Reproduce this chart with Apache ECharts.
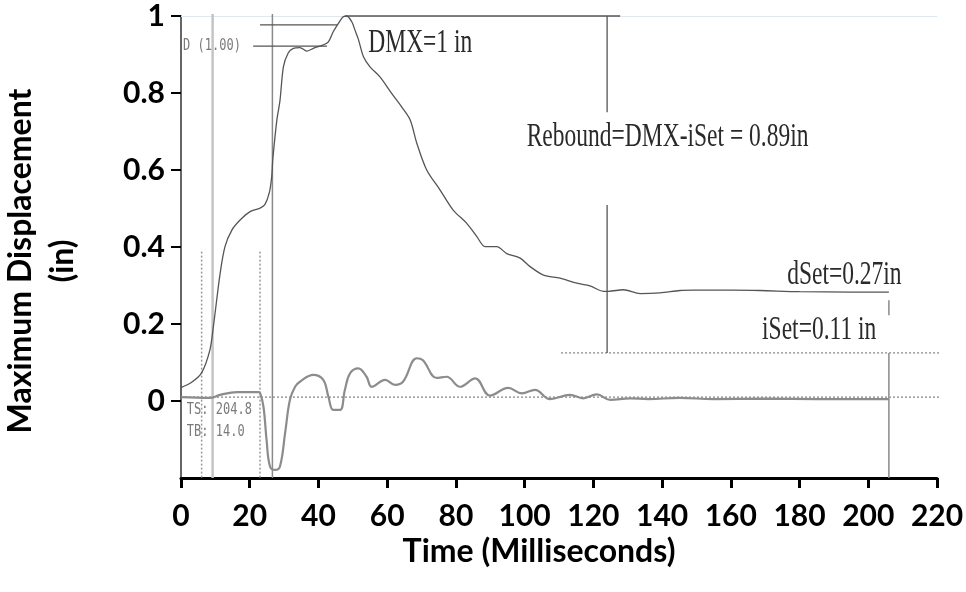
<!DOCTYPE html>
<html>
<head>
<meta charset="utf-8">
<script src="https://cdn.jsdelivr.net/npm/echarts@6/dist/echarts.min.js"></script>
<style>html,body{margin:0;padding:0;background:#fff}#c{width:966px;height:592px}</style>
</head>
<body>
<div id="c"></div>
<script>
// ---- data ----
const dispTime  = [0,3,6,8.4,9.4,11.4,12.8,14.8,17.2,20.1,23.0,24.4,25.7,26.4,26.7,27.9,28.8,29.8,31.2,32.7,34.6,36.6,38.5,41.4,42.9,44.3,45.8,47.2,48.2,49.7,50.6,51.6,53.1,55.0,57.9,61.3,64.2,66.7,68.6,71.5,75.4,79.2,83.1,86.1,88.5,91.9,94.8,98.7,101.6,105.5,110.3,115.2,119.0,122.9,124.4,128.7,133.6,139.4,145.2,149.0,160.7,168.5,180.0,195.0,206.0];
const dispValue = [0.035,0.048,0.073,0.132,0.192,0.332,0.401,0.444,0.470,0.492,0.501,0.510,0.541,0.583,0.626,0.730,0.780,0.868,0.904,0.916,0.918,0.909,0.916,0.925,0.933,0.959,0.981,0.998,1.000,0.985,0.964,0.940,0.894,0.868,0.842,0.799,0.764,0.730,0.670,0.600,0.548,0.496,0.462,0.427,0.401,0.401,0.383,0.371,0.349,0.327,0.319,0.306,0.299,0.285,0.285,0.289,0.279,0.281,0.287,0.288,0.288,0.287,0.284,0.283,0.283];
const lowTime  = [0,8.4,11.4,16.3,22.4,23.0,24.0,24.9,25.9,27.4,28.8,30.3,31.7,33.2,34.6,38.5,41.4,42.9,44.3,46.3,47.7,49.2,51.6,54.0,55.5,59.4,62.3,64.6,68.6,70.4,74.4,77.3,81.2,85.6,89.9,95.2,99.2,103.0,107.4,113.2,117.0,121.0,124.9,130.7,136,145,155,170,185,206];
const lowValue = [0.010,0.008,0.016,0.023,0.023,0.021,-0.015,-0.101,-0.170,-0.179,-0.170,-0.083,0.003,0.037,0.050,0.068,0.055,0.011,-0.023,-0.023,0.029,0.072,0.085,0.063,0.037,0.055,0.042,0.050,0.111,0.106,0.060,0.063,0.037,0.059,0.014,0.034,0.020,0.029,0.005,0.016,0.007,0.017,0.003,0.007,0.005,0.008,0.005,0.006,0.005,0.005];
const xTicks = [0,20,40,60,80,100,120,140,160,180,200,220];
const yTicks = [0,0.2,0.4,0.6,0.8,1];

// reference / annotation segments (data coordinates)
const solidDark = [
  [[23,0.977],[45.4,0.977]],
  [[21,0.922],[42.5,0.922]],
  [[47.7,1.0],[127.8,1.0]],
  [[124,1.0],[124,0.75]],
  [[124,0.509],[124,0.125]]
];
const solidGray = [
  [[26.6,1.005],[26.6,-0.2]],
  [[206,0.125],[206,-0.2]],
  [[206,0.262],[206,0.223]]
];
const solidLight = [
  [[9.2,1.005],[9.2,-0.2]]
];
const dotted = [
  [[6.0,0.388],[6.0,-0.2]],
  [[23.0,0.388],[23.0,-0.2]],
  [[110.6,0.125],[221.5,0.125]],
  [[0,0.01],[221.5,0.01]]
];
const serifNotes = [
  {text:'DMX=1 in', at:[54.5,0.931]},
  {text:'Rebound=DMX-iSet = 0.89in', at:[100.6,0.686]},
  {text:'dSet=0.27in', at:[176.4,0.327]},
  {text:'iSet=0.11 in', at:[169.1,0.184]}
];
const monoNotes = [
  {text:'D (1.00)', at:[0.6,0.922]},
  {text:'TS: 204.8', at:[1.7,-0.023]},
  {text:'TB: 14.0', at:[1.7,-0.081]}
];

// ---- chart ----
const chart = echarts.init(document.getElementById('c'));
function segSeries(list, color, width, type, z){
  const out=[];
  list.forEach(seg=>{
    out.push({type:'line', data:seg, symbol:'none', clip:false, silent:true, z:z||2,
      lineStyle:{color:color,width:width,type:type}});
  });
  return out;
}
const zip=(a,b)=>a.map((t,i)=>[t,b[i]]);
const series = [].concat(
  segSeries(solidLight,'#c4c4c4',2.5,'solid',1),
  segSeries(solidGray,'#8a8a8a',1.5,'solid',1),
  segSeries(dotted,'#9a9a9a',1.5,[2,2],1),
  segSeries(solidDark,'#555',1.3,'solid',2),
  [
    {type:'line', name:'disp', data:zip(dispTime,dispValue), symbol:'none', smooth:0.3, z:3,
     lineStyle:{color:'#555', width:1.3}},
    {type:'line', name:'low', data:zip(lowTime,lowValue), symbol:'none', smooth:0.4, z:3,
     lineStyle:{color:'#8c8c8c', width:2.2}}
  ]
);
const labelFont = 'Lato';
chart.setOption({
  animation:false,
  grid:{left:181, right:29, top:16, bottom:114, containLabel:false, outerBoundsMode:'none'},
  xAxis:[{
    type:'value', min:xTicks[0], max:xTicks[xTicks.length-1], interval:20,
    axisLine:{onZero:false, lineStyle:{color:'#000', width:3}},
    axisTick:{show:true, length:10, lineStyle:{color:'#000', width:3}},
    splitLine:{show:false},
    axisLabel:{color:'#000', fontFamily:labelFont, fontWeight:'bold', fontSize:30, margin:23},
    name:'Time (Milliseconds)', nameLocation:'middle', nameGap:52,
    nameTextStyle:{color:'#000', fontFamily:labelFont, fontWeight:'bold', fontSize:32, padding:[0,40,0,0]}
  },{
    type:'value', position:'top', min:0, max:220,
    axisLine:{show:true, onZero:false, lineStyle:{color:'#dfe7f0', width:1}},
    axisTick:{show:false}, axisLabel:{show:false}, splitLine:{show:false}
  }],
  yAxis:{
    type:'value', min:-0.2, max:1, interval:0.2,
    axisLine:{show:true, onZero:false, lineStyle:{color:'#333', width:1.5}},
    axisTick:{show:true, length:10, customValues:yTicks, lineStyle:{color:'#000', width:2}},
    splitLine:{show:false},
    axisLabel:{color:'#000', fontFamily:labelFont, fontWeight:'bold', fontSize:30, margin:16,
      customValues:yTicks,
      formatter:v=> (yTicks.find(t=>Math.abs(t-v)<1e-6) ?? v) + ''},
    name:'Maximum Displacement\n(in)', nameLocation:'middle', nameGap:97, nameRotate:90,
    nameTextStyle:{color:'#000', fontFamily:labelFont, fontWeight:'bold', fontSize:32, lineHeight:42, padding:[0,28,0,0]}
  },
  series:series
});

function placeNotes(){
  const els=[];
  serifNotes.forEach(n=>{
    const p=chart.convertToPixel({xAxisIndex:0,yAxisIndex:0}, n.at);
    els.push({type:'text', x:p[0], y:p[1], scaleY:1.45, z:10, silent:true,
      style:{text:n.text, x:0, y:0, align:'left', verticalAlign:'middle',
        fill:'#2a2a2a', font:'23.5px "Liberation Serif"'}});
  });
  monoNotes.forEach(n=>{
    const p=chart.convertToPixel({xAxisIndex:0,yAxisIndex:0}, n.at);
    els.push({type:'text', x:p[0], y:p[1], scaleY:1.3, z:10, silent:true,
      style:{text:n.text, x:0, y:0, align:'left', verticalAlign:'middle',
        fill:'#7a7a7a', font:'12px "DejaVu Sans Mono"'}});
  });
  chart.setOption({graphic:{elements:els}});
}
placeNotes();
</script>
</body>
</html>
